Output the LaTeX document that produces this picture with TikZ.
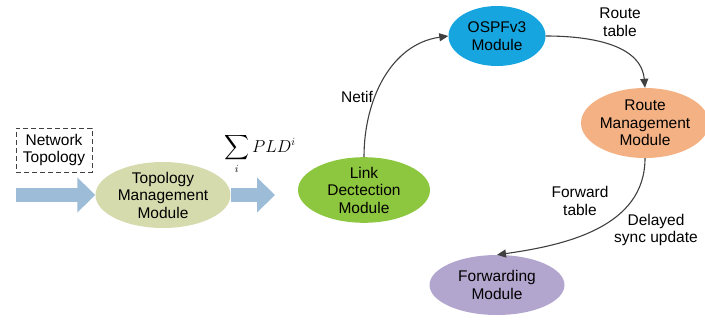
\documentclass[tikz,border=0pt]{standalone}
\usepackage{amsmath}
\usepackage{fontspec}
\setmainfont{Liberation Sans}
\usetikzlibrary{shapes.geometric,arrows.meta}
\definecolor{topocor}{RGB}{214,219,174}
\definecolor{linkcor}{RGB}{141,198,63}
\definecolor{ospfcor}{RGB}{22,165,222}
\definecolor{rotacor}{RGB}{244,177,131}
\definecolor{fwdcor}{RGB}{179,166,206}
\definecolor{setacor}{RGB}{156,188,216}
\definecolor{linhacor}{RGB}{64,64,64}
\begin{document}
\begin{tikzpicture}[x=1pt, y=-1pt,
	modulo/.style={ellipse, inner sep=0pt, align=center, font=\fontsize{15.5}{17.5}\selectfont},
	rotulo/.style={align=center, font=\fontsize{15.5}{17.5}\selectfont},
	bloco/.style={setacor, line width=14pt, -{Triangle[width=34pt, length=18pt]}},
	liga/.style={linhacor, line width=1.1pt, -{Triangle[width=8pt, length=9pt]}}]
	
		% Moldura
		
		\useasboundingbox (0, 0) rectangle (705, 322);
		
		% Modulos
		
		\draw node[modulo, fill=topocor, minimum width=135pt, minimum height=66pt] (topo) at (163, 195) {Topology\\Management\\Module} ;
		
		\draw node[modulo, fill=linkcor, minimum width=132pt, minimum height=60pt] (link) at (364, 190) {Link\\Dectection\\Module} ;
		
		\draw node[modulo, fill=ospfcor, minimum width=97pt, minimum height=60pt] (ospf) at (497, 36) {OSPFv3\\Module} ;
		
		\draw node[modulo, fill=rotacor, minimum width=126pt, minimum height=70pt] (rota) at (645, 123) {Route\\Management\\Module} ;
		
		\draw node[modulo, fill=fwdcor, minimum width=135pt, minimum height=60pt] (fwd) at (497, 285) {Forwarding\\Module} ;
		
		% Entrada
		
		\draw node[rotulo, draw=linhacor, dash pattern=on 5pt off 3pt, line width=0.9pt, inner sep=2pt, minimum width=76pt, minimum height=44pt] (rede) at (54, 150) {Network\\Topology} ;
		
		\coordinate (ini) at (16, 195);
		
		\coordinate (fim) at (275, 195);
		
		\draw[bloco] (ini) -- (topo.west);
		
		\draw[bloco] (topo.east) -- (fim);
		
		\draw node[font=\fontsize{16}{18}\selectfont] (soma) at (260, 154) {$\displaystyle\sum_i PLD^i$} ;
		
		% Ligacoes
		
		\draw[liga] (link.north) to[out=90, in=188] (ospf.west);
		
		\draw[liga] (ospf.east) to[out=0, in=95] (rota.north);
		
		\draw[liga] (rota.south) to[out=270, in=8] (fwd.north);
		
		\draw node[rotulo] (netif) at (357, 97) {Netif} ;
		
		\draw node[rotulo] (rtab) at (620, 22) {Route\\table} ;
		
		\draw node[rotulo] (ftab) at (580, 201) {Forward\\table} ;
		
		\draw node[rotulo] (sync) at (656, 230) {Delayed\\sync update} ;
		
	\end{tikzpicture}
\end{document}
